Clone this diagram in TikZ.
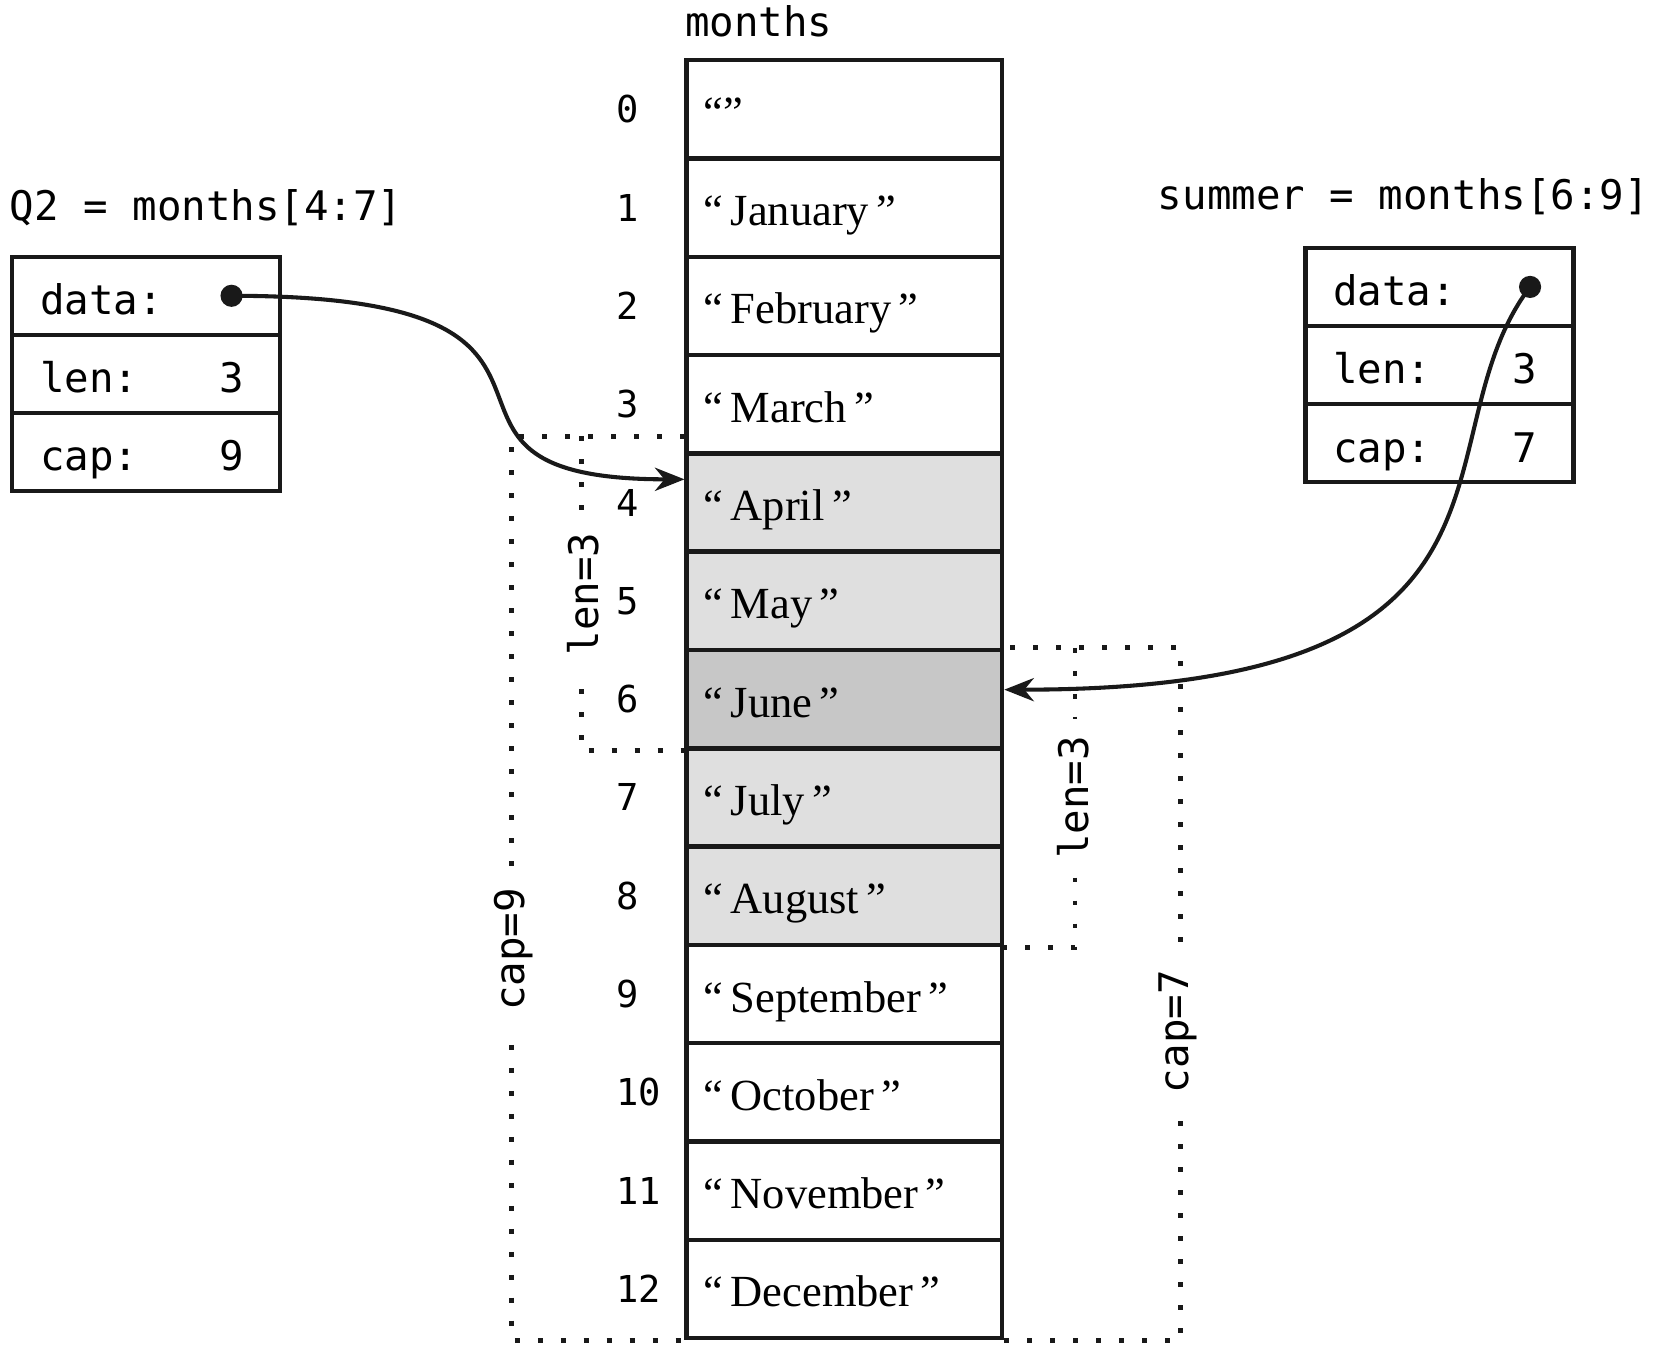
\documentclass[tikz,border=0pt]{standalone}
\usepackage{fontspec}
\setmainfont{Liberation Serif}
\setmonofont{DejaVu Sans Mono}
\usepackage{tikz}
\usetikzlibrary{arrows.meta, positioning}
\definecolor{mainBlack}{gray}{0.1}
\definecolor{sliceGray}{gray}{0.875}
\definecolor{headGray}{gray}{0.78}
\newcommand{\fieldrow}[2]{\makebox[20.1mm][l]{#1\hfill#2\hspace{0.8mm}}}

\begin{document}
\begin{tikzpicture}[x=0.1mm, y=-0.1mm,
    cell/.style={draw=mainBlack, line width=1.2pt, minimum width=29.9mm, minimum height=9.32mm,
        inner xsep=1.6mm, text width=26.7mm, align=left, text height=3.4mm, text depth=0pt,
        font=\fontsize{12}{14}\selectfont},
    field/.style={draw=mainBlack, line width=1.2pt, minimum width=25.4mm, minimum height=7.4mm,
        inner xsep=0pt, outer sep=0pt, text height=3.6mm, text depth=0pt,
        font=\ttfamily\fontsize{11}{13}\selectfont},
    codeText/.style={font=\ttfamily\fontsize{11}{13}\selectfont, inner sep=0pt},
    idx/.style={font=\ttfamily\fontsize{10}{12}\selectfont, inner sep=0pt, anchor=west},
    sliceLine/.style={mainBlack, line width=1.3pt, dash pattern=on 1.3pt off 4.9pt},
    sliceLabel/.style={codeText, fill=white, rotate=90, inner xsep=1.6mm},
    pointer/.style={mainBlack, line width=1.1pt, -{Stealth[length=2.8mm, width=2.2mm, inset=0.9mm]}}]
    \useasboundingbox (0,0) rectangle (1568,1287.3);

    % the backing array
    \node[cell] (m0) at (800.5,103.6) {“”};
    \foreach \i/\month/\shade in {1/January/white, 2/February/white, 3/March/white,
        4/April/sliceGray, 5/May/sliceGray, 6/June/headGray, 7/July/sliceGray, 8/August/sliceGray,
        9/September/white, 10/October/white, 11/November/white, 12/December/white}
        \node[cell, fill=\shade] (m\i) at (800.5,{103.6+93.2*\i}) {“\,\month\,”};
    \foreach \i in {0,...,12}
        \node[idx] (i\i) at ([xshift=-6.5mm]m\i.west) {\i};
    \node[codeText, anchor=base west] (monthsLabel) at ([yshift=2mm]m0.north west) {months};

    % slice headers
    \node[codeText, anchor=base west] (q2Label) at (8.5,208.6) {Q2 = months[4:7]};
    \node[field] (q2data) at (138.5,280.4) {\fieldrow{data:}{}};
    \node[field, below=0pt of q2data] (q2len) {\fieldrow{len:}{3}};
    \node[field, below=0pt of q2len] (q2cap) {\fieldrow{cap:}{9}};

    \node[codeText, anchor=base west] (summerLabel) at (1097,199) {summer = months[6:9]};
    \node[field] (sdata) at (1364.5,272) {\fieldrow{data:}{}};
    \node[field, below=0pt of sdata] (slen) {\fieldrow{len:}{3}};
    \node[field, below=0pt of slen] (scap) {\fieldrow{cap:}{7}};

    % len and cap ranges
    \coordinate (q2top) at ([yshift=1.4mm]m4.north west);
    \coordinate (q2lentop) at ([xshift=-9.8mm]q2top);
    \draw[sliceLine] (q2top) -- ++(-164,0) coordinate (q2corner) -- (q2corner |- m12.south) -- (m12.south west);
    \draw[sliceLine] (q2lentop) -- (q2lentop |- m6.south west) -- (m6.south west);
    \coordinate (slentop) at ([xshift=6.7mm]m6.north east);
    \draw[sliceLine] (m12.south east) -- ++(167,0) coordinate (scorner) -- (scorner |- m6.north east) -- (m6.north east);
    \draw[sliceLine] (slentop) -- (slentop |- m8.south east) -- (m8.south east);
    \node[sliceLabel] (q2lenLabel) at (553,563) {len=3};
    \node[sliceLabel] (q2capLabel) at (487,900) {cap=9};
    \node[sliceLabel] (slenLabel) at (1017,756) {len=3};
    \node[sliceLabel] (scapLabel) at (1117,978) {cap=7};

    % data pointers
    \coordinate (q2dot) at ([xshift=-4.6mm]q2data.east);
    \coordinate (sdot) at ([xshift=-4.1mm]sdata.east);
    \fill[mainBlack] (q2dot) circle (1.05mm);
    \fill[mainBlack] (sdot) circle (1.05mm);
    \draw[pointer] (q2dot) .. controls +(400,0) and +(-300,0) .. ([yshift=2.2mm]m4.west);
    \draw[pointer] (sdot) .. controls +(-110,145) and +(527,0) .. ([yshift=0.9mm]m6.east);
\end{tikzpicture}
\end{document}
